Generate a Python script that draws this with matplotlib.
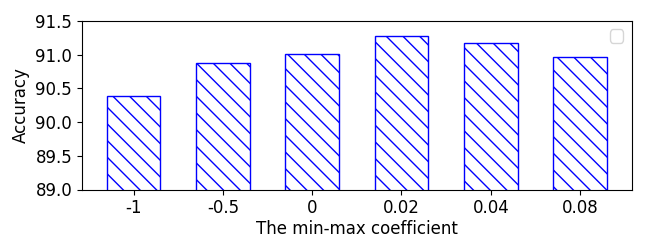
import matplotlib
matplotlib.use('Agg')
import matplotlib.pyplot as plt
import warnings

warnings.filterwarnings('ignore')

# 数据
coefficients = ['-1', '-0.5', '0', '0.02', '0.04', '0.08']
accuracy = [90.38, 90.87, 91.01, 91.28, 91.17, 90.96]

fig = plt.figure(figsize=(6.5, 2.5), dpi=100)
ax = fig.add_axes([0.126, 0.242, 0.846, 0.674])

x = range(len(coefficients))
ax.bar(x, accuracy, width=0.6, color='white', edgecolor='blue', hatch='\\\\')

ax.set_xticks(list(x))
ax.set_xticklabels(coefficients, fontsize=12)
ax.tick_params(axis='y', labelsize=12)
ax.set_ylim(89.0, 91.5)
ax.set_xlabel('The min-max coefficient', fontsize=12, labelpad=2)
ax.set_ylabel('Accuracy', fontsize=12)
# 空图例
ax.legend(fontsize=12)

fig.savefig('out.png', dpi=100)
